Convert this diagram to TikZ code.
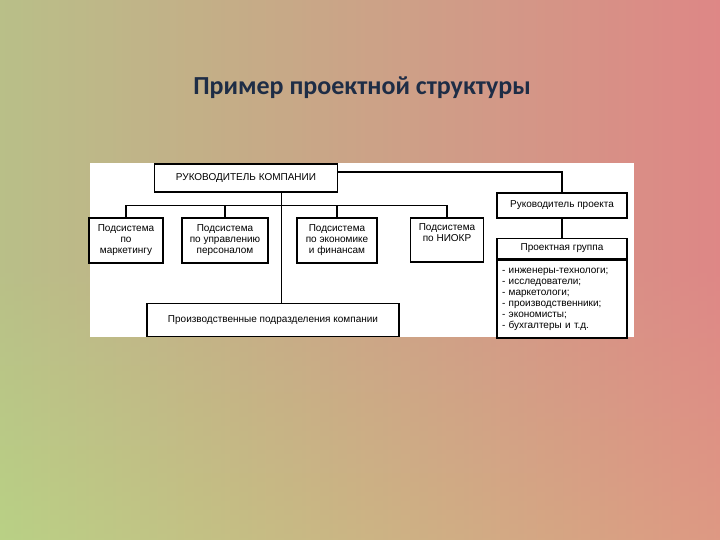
\documentclass[tikz,border=0pt]{standalone}
\usepackage{fontspec}
\setmainfont{Liberation Sans}
\newfontfamily\titlefont{Carlito}
\definecolor{bgl}{RGB}{165,205,130}
\definecolor{bgr}{RGB}{218,125,128}
\definecolor{bgy}{RGB}{232,218,140}
\definecolor{bgp}{RGB}{232,160,150}
\definecolor{ttl}{RGB}{30,45,70}
\begin{document}
\begin{tikzpicture}[x=1pt,y=-1pt,
 bx/.style={draw,line width=1.6pt,fill=white,inner sep=0pt,align=center,font=\fontsize{10}{11}\selectfont},
 ln/.style={line width=1.6pt}]
\useasboundingbox (0,0) rectangle (720,540);
\shade[left color=bgl,right color=bgr] (0,0) rectangle (720,540);
\shade[top color=bgp,bottom color=bgy,middle color=bgp,opacity=0.3] (0,0) rectangle (720,540);
\node[font=\titlefont\bfseries\fontsize{26}{30}\selectfont,text=ttl] (title) at (362,88) {Пример проектной структуры};
\fill[white] (90,163) rectangle (634,337);
\node[bx,minimum width=183,minimum height=28] (top) at (246,178) {РУКОВОДИТЕЛЬ КОМПАНИИ};
\node[bx,minimum width=74,minimum height=45] (b1) at (126,240.5) {Подсистема\\по\\маркетингу};
\node[bx,minimum width=86,minimum height=45] (b2) at (225,240.5) {Подсистема\\по управлению\\персоналом};
\node[bx,minimum width=80,minimum height=45] (b3) at (337,240.5) {Подсистема\\по экономике\\и финансам};
\node[bx,minimum width=73,minimum height=44] (b4) at (447,240) {Подсистема\\по НИОКР\\\strut};
\node[bx,minimum width=252,minimum height=33] (bot) at (273,320) {Производственные подразделения компании};
\node[bx,minimum width=130,minimum height=25] (ph) at (562,205.5) {Руководитель проекта};
\node[bx,minimum width=130,minimum height=20] (pg) at (562,248.5) {Проектная группа};
\node[bx,minimum width=130,minimum height=78,anchor=north,align=left,text width=120] (pl) at (pg.south) {- инженеры-технологи;\\- исследователи;\\- маркетологи;\\- производственники;\\- экономисты;\\- бухгалтеры и т.д.};
\coordinate (bus) at (281.5,205.5);
\draw[ln] (top.south -| bus) -- (bot.north -| bus);
\draw[ln] (b1.north) |- (bus) -| (b4.north);
\draw[ln] (b2.north) -- (b2.north |- bus);
\draw[ln] (b3.north) -- (b3.north |- bus);
\draw[ln] (top.east |- 0,172) -| (ph.north);
\draw[ln] (ph) -- (pg);
\end{tikzpicture}
\end{document}
